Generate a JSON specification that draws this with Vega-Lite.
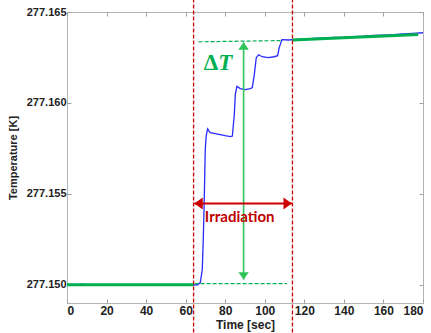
{
  "$schema": "https://vega.github.io/schema/vega-lite/v6.json",
  "width": 356,
  "height": 291,
  "autosize": "none",
  "padding": {"left": 67, "top": 12, "right": 8, "bottom": 30},
  "background": "white",
  "config": {
    "view": {"stroke": "#b4b4b4", "strokeWidth": 1},
    "axis": {
      "labelFont": "Liberation Sans", "labelFontWeight": "bold", "labelColor": "#222222",
      "titleFont": "Liberation Sans", "titleFontWeight": "bold", "titleColor": "#222222",
      "domainColor": "#b4b4b4", "tickColor": "#a0a0a0", "grid": false
    }
  },
  "datasets": {
    "raw": [
      {"t": 0, "T": 277.14999}, {"t": 3, "T": 277.15000}, {"t": 5, "T": 277.15001}, {"t": 8, "T": 277.15003},
      {"t": 10, "T": 277.15000}, {"t": 13, "T": 277.14997}, {"t": 16, "T": 277.14998}, {"t": 20, "T": 277.14999},
      {"t": 24, "T": 277.14997}, {"t": 28, "T": 277.14999}, {"t": 30, "T": 277.15001}, {"t": 34, "T": 277.14998},
      {"t": 37, "T": 277.14997}, {"t": 40, "T": 277.14998}, {"t": 44, "T": 277.14999}, {"t": 48, "T": 277.15000},
      {"t": 52, "T": 277.14998}, {"t": 56, "T": 277.14999}, {"t": 60, "T": 277.14998}, {"t": 64, "T": 277.14999},
      {"t": 66, "T": 277.15000}, {"t": 67.4, "T": 277.15012}, {"t": 68.4, "T": 277.15084}, {"t": 68.9, "T": 277.15249},
      {"t": 69.4, "T": 277.15469}, {"t": 69.9, "T": 277.15743}, {"t": 70.4, "T": 277.15820}, {"t": 71.1, "T": 277.15857},
      {"t": 72.4, "T": 277.15837}, {"t": 75.0, "T": 277.15831}, {"t": 77.5, "T": 277.15826}, {"t": 80.0, "T": 277.15820},
      {"t": 82.6, "T": 277.15815}, {"t": 83.6, "T": 277.15818}, {"t": 84.6, "T": 277.15936}, {"t": 85.1, "T": 277.16046},
      {"t": 85.9, "T": 277.16091}, {"t": 87.6, "T": 277.16079}, {"t": 90.2, "T": 277.16073}, {"t": 92.7, "T": 277.16079},
      {"t": 93.7, "T": 277.16084}, {"t": 94.7, "T": 277.16156}, {"t": 95.7, "T": 277.16249}, {"t": 96.9, "T": 277.16265},
      {"t": 98.7, "T": 277.16254}, {"t": 101.8, "T": 277.16249}, {"t": 104.8, "T": 277.16254}, {"t": 106.5, "T": 277.16260},
      {"t": 107.3, "T": 277.16304}, {"t": 108.7, "T": 277.16348}, {"t": 112, "T": 277.16346}, {"t": 116, "T": 277.16350},
      {"t": 120, "T": 277.16352}, {"t": 125, "T": 277.16355}, {"t": 130, "T": 277.16357}, {"t": 135, "T": 277.16361},
      {"t": 140, "T": 277.16362}, {"t": 145, "T": 277.16365}, {"t": 150, "T": 277.16367}, {"t": 155, "T": 277.16371},
      {"t": 160, "T": 277.16373}, {"t": 165, "T": 277.16375}, {"t": 170, "T": 277.16379}, {"t": 175, "T": 277.16383},
      {"t": 180, "T": 277.16386}
    ],
    "fit": [
      {"seg": "a", "t": 0, "T": 277.15000}, {"seg": "a", "t": 64, "T": 277.15000},
      {"seg": "b", "t": 113.9, "T": 277.16346}, {"seg": "b", "t": 177.6, "T": 277.16376}
    ],
    "ref": [
      {"seg": "top", "t": 66.5, "T": 277.16336}, {"seg": "top", "t": 109, "T": 277.16343},
      {"seg": "bot", "t": 64.5, "T": 277.15007}, {"seg": "bot", "t": 111.2, "T": 277.15007}
    ],
    "irr": [
      {"t": 64, "lo": 277.14738, "hi": 277.16568},
      {"t": 114, "lo": 277.14738, "hi": 277.16568}
    ],
    "dT": [{"t": 89.3, "lo": 277.15029, "hi": 277.16333}],
    "dThead": [
      {"dir": "up", "t": 89.3, "T": 277.16333},
      {"dir": "down", "t": 89.3, "T": 277.15029}
    ],
    "irrArrow": [{"t": 64.4, "t2": 113.7, "T": 277.15447}],
    "irrHead": [
      {"dir": "left", "t": 64.4, "T": 277.15447},
      {"dir": "right", "t": 113.7, "T": 277.15447}
    ],
    "labels": [
      {"kind": "delta", "t": 72.8, "T": 277.16220, "text": "Δ"},
      {"kind": "T", "t": 80.0, "T": 277.16220, "text": "T"},
      {"kind": "irr", "t": 87.3, "T": 277.15374, "text": "Irradiation"}
    ]
  },
  "layer": [
    {
      "data": {"name": "raw"},
      "mark": {"type": "line", "color": "#2a2aff", "strokeWidth": 1.3},
      "encoding": {
        "x": {"field": "t", "type": "quantitative",
              "scale": {"domain": [0, 180], "nice": false},
              "axis": {"title": "Time [sec]", "values": [0, 20, 40, 60, 80, 100, 120, 140, 160, 180],
                       "tickSize": -4, "labelPadding": 6, "labelFontSize": 12, "titleFontSize": 12, "titlePadding": 3, "domain": false}},
        "y": {"field": "T", "type": "quantitative",
              "scale": {"domain": [277.149, 277.165], "nice": false, "zero": false},
              "axis": {"title": "Temperature [K]", "values": [277.150, 277.155, 277.160, 277.165], "format": ".3f",
                       "tickSize": -4, "labelPadding": 5, "labelFontSize": 11, "titleFontSize": 11, "titlePadding": 8, "domain": false}}
      }
    },
    {
      "data": {"name": "fit"},
      "mark": {"type": "line", "color": "#00b050", "strokeWidth": 3},
      "encoding": {
        "x": {"field": "t", "type": "quantitative", "scale": {"domain": [0, 180], "nice": false}, "axis": null},
        "y": {"field": "T", "type": "quantitative", "scale": {"domain": [277.149, 277.165], "nice": false, "zero": false}, "axis": null},
        "detail": {"field": "seg"}
      }
    },
    {
      "data": {"name": "ref"},
      "mark": {"type": "line", "color": "#00b050", "strokeWidth": 1.2, "strokeDash": [4, 2]},
      "encoding": {
        "x": {"field": "t", "type": "quantitative", "scale": {"domain": [0, 180], "nice": false}, "axis": null},
        "y": {"field": "T", "type": "quantitative", "scale": {"domain": [277.149, 277.165], "nice": false, "zero": false}, "axis": null},
        "detail": {"field": "seg"}
      }
    },
    {
      "data": {"name": "irr"},
      "mark": {"type": "rule", "color": "#cc0000", "strokeWidth": 1.3, "strokeDash": [4, 2], "clip": false},
      "encoding": {
        "x": {"field": "t", "type": "quantitative", "scale": {"domain": [0, 180], "nice": false},
              "axis": {"orient": "top", "title": null, "labels": false, "values": [0, 20, 40, 60, 80, 100, 120, 140, 160, 180], "tickSize": -4, "domain": false}},
        "y": {"field": "lo", "type": "quantitative", "scale": {"domain": [277.149, 277.165], "nice": false, "zero": false},
              "axis": {"orient": "right", "title": null, "labels": false, "values": [277.150, 277.155, 277.160, 277.165], "tickSize": -4, "domain": false}},
        "y2": {"field": "hi"}
      }
    },
    {
      "data": {"name": "dT"},
      "mark": {"type": "rule", "color": "#2ec45a", "strokeWidth": 1.6},
      "encoding": {
        "x": {"field": "t", "type": "quantitative", "scale": {"domain": [0, 180], "nice": false}, "axis": null},
        "y": {"field": "lo", "type": "quantitative", "scale": {"domain": [277.149, 277.165], "nice": false, "zero": false}, "axis": null},
        "y2": {"field": "hi"}
      }
    },
    {
      "data": {"name": "irrArrow"},
      "mark": {"type": "rule", "color": "#cc0000", "strokeWidth": 2},
      "encoding": {
        "x": {"field": "t", "type": "quantitative", "scale": {"domain": [0, 180], "nice": false}, "axis": null},
        "x2": {"field": "t2"},
        "y": {"field": "T", "type": "quantitative", "scale": {"domain": [277.149, 277.165], "nice": false, "zero": false}, "axis": null}
      }
    },
    {
      "data": {"name": "dThead"},
      "mark": {"type": "point", "filled": true, "opacity": 1, "color": "#2ec45a", "size": 110, "strokeWidth": 0},
      "encoding": {
        "x": {"field": "t", "type": "quantitative", "scale": {"domain": [0, 180], "nice": false}, "axis": null},
        "y": {"field": "T", "type": "quantitative", "scale": {"domain": [277.149, 277.165], "nice": false, "zero": false}, "axis": null},
        "shape": {"field": "dir", "type": "nominal", "legend": null,
                  "scale": {"domain": ["up", "down"], "range": ["M-1,1.4L1,1.4L0,0Z", "M-1,-1.4L1,-1.4L0,0Z"]}}
      }
    },
    {
      "data": {"name": "irrHead"},
      "mark": {"type": "point", "filled": true, "opacity": 1, "color": "#cc0000", "size": 144, "strokeWidth": 0},
      "encoding": {
        "x": {"field": "t", "type": "quantitative", "scale": {"domain": [0, 180], "nice": false}, "axis": null},
        "y": {"field": "T", "type": "quantitative", "scale": {"domain": [277.149, 277.165], "nice": false, "zero": false}, "axis": null},
        "shape": {"field": "dir", "type": "nominal", "legend": null,
                  "scale": {"domain": ["left", "right"], "range": ["M0,0L1.4,-1L1.4,1Z", "M0,0L-1.4,-1L-1.4,1Z"]}}
      }
    },
    {
      "data": {"name": "labels"},
      "transform": [{"filter": "datum.kind === 'delta'"}],
      "mark": {"type": "text", "font": "Liberation Serif", "fontWeight": "bold", "fontSize": 23, "color": "#00b050", "align": "center", "baseline": "middle"},
      "encoding": {
        "x": {"field": "t", "type": "quantitative", "scale": {"domain": [0, 180], "nice": false}, "axis": null},
        "y": {"field": "T", "type": "quantitative", "scale": {"domain": [277.149, 277.165], "nice": false, "zero": false}, "axis": null},
        "text": {"field": "text"}
      }
    },
    {
      "data": {"name": "labels"},
      "transform": [{"filter": "datum.kind === 'T'"}],
      "mark": {"type": "text", "font": "Liberation Serif", "fontWeight": "bold", "fontStyle": "italic", "fontSize": 23, "color": "#00b050", "align": "center", "baseline": "middle"},
      "encoding": {
        "x": {"field": "t", "type": "quantitative", "scale": {"domain": [0, 180], "nice": false}, "axis": null},
        "y": {"field": "T", "type": "quantitative", "scale": {"domain": [277.149, 277.165], "nice": false, "zero": false}, "axis": null},
        "text": {"field": "text"}
      }
    },
    {
      "data": {"name": "labels"},
      "transform": [{"filter": "datum.kind === 'irr'"}],
      "mark": {"type": "text", "font": "Lato", "fontWeight": "bold", "fontSize": 15, "color": "#c00000", "align": "center", "baseline": "middle"},
      "encoding": {
        "x": {"field": "t", "type": "quantitative", "scale": {"domain": [0, 180], "nice": false}, "axis": null},
        "y": {"field": "T", "type": "quantitative", "scale": {"domain": [277.149, 277.165], "nice": false, "zero": false}, "axis": null},
        "text": {"field": "text"}
      }
    }
  ],
  "resolve": {"axis": {"x": "independent", "y": "independent"}, "scale": {"shape": "independent"}}
}
